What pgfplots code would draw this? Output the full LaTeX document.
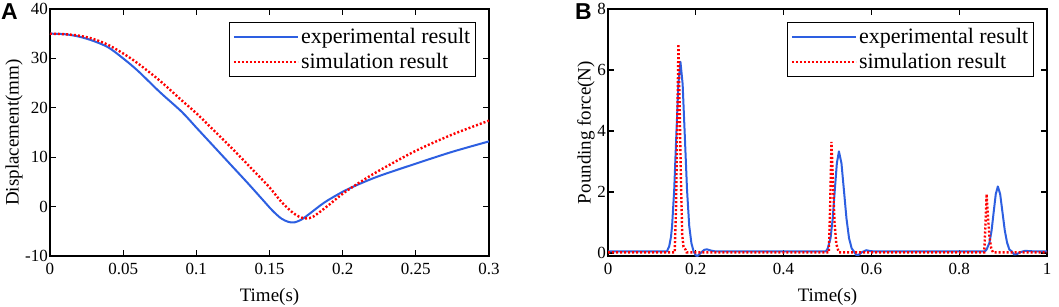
\documentclass[border=0pt]{standalone}
\usepackage{pgfplots}
\pgfplotsset{compat=1.18}
\usepackage{fontspec}
\setmainfont{Liberation Serif}
\setsansfont{Liberation Sans}
\definecolor{expblue}{RGB}{45,95,225}
\definecolor{simred}{RGB}{255,0,0}
\pgfplotsset{
  mystyle/.style={
    scale only axis, width=439pt, height=247pt,
    axis line style={line width=1.2pt},
    tick style={line width=1.2pt, black},
    tick align=inside, major tick length=6pt,
    xtick pos=both, ytick pos=both,
    ticklabel style={font=\fontsize{17}{20}\selectfont},
    label style={font=\fontsize{19}{22}\selectfont},
    yticklabel style={inner xsep=2pt},
    xticklabel style={inner ysep=3pt, yshift=-4pt},
    xlabel style={inner ysep=0pt, yshift=-10pt},
    legend style={anchor=north east, draw=black, line width=1.2pt, fill=white,
      font=\fontsize{22}{24}\selectfont, inner xsep=3pt, inner ysep=4pt,
      row sep=4pt, cells={anchor=west}},
    legend image code/.code={\draw[##1] (0pt,0pt) -- (64pt,0pt);},
    legend cell align=left,
  },
  expline/.style={color=expblue, line width=2pt, line join=round},
  simline/.style={color=simred, line width=2.4pt, dash pattern=on 2pt off 2pt},
}
\newcommand{\tl}[1]{\textrm{#1}}
\begin{document}
\begin{tikzpicture}
\useasboundingbox (-50pt,-50pt) rectangle (1009pt,256pt);
\begin{axis}[mystyle, at={(0pt,0pt)}, anchor=south west,
  xmin=0, xmax=0.3, ymin=-10, ymax=40,
  xtick={0,0.05,0.1,0.15,0.2,0.25,0.3},
  xticklabels={\tl{0},\tl{0.05},\tl{0.1},\tl{0.15},\tl{0.2},\tl{0.25},\tl{0.3}},
  ytick={-10,0,10,20,30,40},
  yticklabels={\tl{-10},\tl{0},\tl{10},\tl{20},\tl{30},\tl{40}},
  xlabel={Time(s)}, ylabel={Displacement(mm)},
  ylabel style={yshift=-3pt},
  legend style={at={(rel axis cs:0.97,0.947)}},
]
\addplot[expline, smooth] coordinates {
(0,35.0) (0.01,34.9) (0.02,34.4) (0.03,33.5) (0.04,32.2) (0.05,30.0)
(0.06,27.5) (0.075,23.2) (0.09,19.2) (0.1,16.0) (0.11,12.8) (0.125,8.0)
(0.135,4.8) (0.145,1.5) (0.152,-0.8) (0.158,-2.4) (0.163,-3.1) (0.167,-3.2)
(0.172,-2.6) (0.178,-1.3) (0.185,0.3) (0.19,1.3) (0.2,3.0) (0.21,4.4)
(0.225,6.2) (0.25,8.7) (0.275,11.1) (0.3,13.2)
};
\addlegendentry{experimental result}
\addplot[simline, smooth] coordinates {
(0,35.0) (0.01,34.9) (0.02,34.6) (0.03,33.9) (0.04,32.7) (0.05,31.0)
(0.06,29.0) (0.075,25.5) (0.09,21.5) (0.1,18.9) (0.11,16.0) (0.125,11.6)
(0.14,7.0) (0.15,3.9) (0.158,1.0) (0.165,-1.0) (0.17,-2.0) (0.175,-2.4)
(0.18,-2.0) (0.19,0.2) (0.2,2.6) (0.21,4.6) (0.225,7.3) (0.25,11.3)
(0.275,14.6) (0.3,17.4)
};
\addlegendentry{simulation result}
\end{axis}
\node[anchor=north west, inner sep=0pt, font=\sffamily\bfseries\fontsize{23}{26}\selectfont] at (-49pt,253pt) {A};
\begin{axis}[mystyle, at={(558pt,0pt)}, anchor=south west,
  xmin=0, xmax=1, ymin=-0.1, ymax=8,
  xtick={0,0.2,0.4,0.6,0.8,1},
  xticklabels={\tl{0},\tl{0.2},\tl{0.4},\tl{0.6},\tl{0.8},\tl{1}},
  ytick={0,2,4,6,8},
  yticklabels={\tl{0},\tl{2},\tl{4},\tl{6},\tl{8}},
  xlabel={Time(s)}, ylabel={Pounding force(N)},
  ylabel style={yshift=-3pt},
  legend style={at={(rel axis cs:0.97,0.947)}},
]
\addplot[expline] coordinates {
(0,0.05) (0.134,0.05) (0.1393,0.21) (0.1435,0.53) (0.146,0.89) (0.1508,2.07)
(0.1555,3.82) (0.1603,5.54) (0.165,6.27) (0.170,5.54) (0.175,3.82) (0.180,2.07)
(0.185,0.89) (0.190,0.32) (0.195,0.05) (0.200,-0.08) (0.204,-0.10) (0.211,0.0)
(0.219,0.10) (0.225,0.12) (0.234,0.08) (0.245,0.05)
(0.496,0.05) (0.5003,0.14) (0.507,0.49) (0.5118,1.12) (0.5165,2.04) (0.5213,2.94)
(0.526,3.33) (0.5318,2.94) (0.5375,2.04) (0.5433,1.12) (0.549,0.49) (0.5548,0.16)
(0.560,0.05) (0.565,-0.06) (0.570,-0.07) (0.578,0.02) (0.588,0.09) (0.598,0.06) (0.608,0.05)
(0.858,0.05) (0.8623,0.11) (0.869,0.34) (0.8738,0.74) (0.8785,1.34) (0.8833,1.93)
(0.888,2.18) (0.8933,1.93) (0.8985,1.34) (0.9038,0.74) (0.909,0.34) (0.9143,0.11)
(0.920,0.05) (0.925,-0.05) (0.931,-0.04) (0.940,0.03) (0.950,0.07) (0.960,0.06) (0.973,0.05)
(1.0,0.05)
};
\addlegendentry{experimental result}
\addplot[simline] coordinates {
(0,0.02) (0.152,0.02) (0.155,1.5) (0.158,4.5) (0.1605,6.85) (0.163,5.0)
(0.166,2.5) (0.169,0.6) (0.172,0.2) (0.177,0.1) (0.179,0.02)
(0.503,0.02) (0.506,1.5) (0.509,3.64) (0.512,2.5) (0.516,1.0) (0.520,0.3)
(0.524,0.1) (0.526,0.02)
(0.857,0.02) (0.860,1.0) (0.8625,1.93) (0.865,1.3) (0.869,0.5) (0.873,0.15)
(0.877,0.02) (1.0,0.02)
};
\addlegendentry{simulation result}
\end{axis}
\node[anchor=north west, inner sep=0pt, font=\sffamily\bfseries\fontsize{23}{26}\selectfont] at (525pt,253pt) {B};
\end{tikzpicture}
\end{document}
